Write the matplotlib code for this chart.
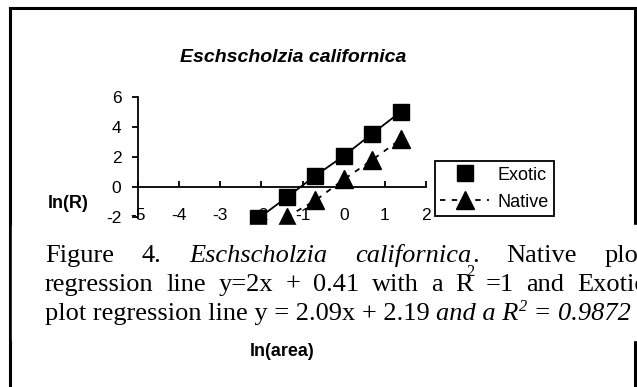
import matplotlib
matplotlib.use("Agg")
import matplotlib.pyplot as plt
from matplotlib.lines import Line2D
from matplotlib.patches import Rectangle

# ---- data ----
title = "Eschscholzia californica"
exotic_x = [-2.08, -1.39, -0.69, 0.0, 0.69, 1.39]
exotic_y = [-2.1, -0.7, 0.75, 2.07, 3.55, 5.02]
native_x = [-1.39, -0.69, 0.0, 0.69, 1.39]
native_y = [-2.0, -0.9, 0.5, 1.8, 3.2]
x_ticks = [-5, -4, -3, -2, -1, 0, 1, 2]
y_ticks = [-2, 0, 2, 4, 6]
series_names = ["Exotic", "Native"]
x_label = "ln(area)"
y_label = "ln(R)"

W, H = 637, 387
fig = plt.figure(figsize=(W / 100, H / 100), dpi=100)
SANS = ["Liberation Sans", "DejaVu Sans"]
SERIF = ["Liberation Serif", "DejaVu Serif"]


def fx(x):
    return x / W


def fy(y):
    return 1 - y / H


# axes: x -5..2 at px 138..426 ; y -2..6 at px 217..97
ax = fig.add_axes([fx(138), fy(217), (426 - 138) / W, (217 - 97) / H])
ax.set_xlim(-5, 2)
ax.set_ylim(-2, 6)
for s in ["top", "right"]:
    ax.spines[s].set_visible(False)
ax.spines["bottom"].set_position(("data", 0))
for s in ["bottom", "left"]:
    ax.spines[s].set_linewidth(1.3)
ax.set_xticks(x_ticks)
ax.set_yticks(y_ticks)
ax.set_xticklabels([str(v) for v in x_ticks], family=SANS, fontsize=12.5)
ax.set_yticklabels([str(v) for v in y_ticks], family=SANS, fontsize=12.5)
ax.tick_params(axis="x", direction="in", length=4, width=1.3, pad=15)
ax.tick_params(axis="y", direction="out", length=4, width=1.3, pad=8)
ax.patch.set_alpha(0)

ax.plot(exotic_x, exotic_y, color="black", lw=1.3, marker="s", ms=11,
        clip_on=False, zorder=3)
ax.plot(native_x, native_y, color="black", lw=1.3, ls=(0, (3, 3.5)),
        marker="^", ms=12.5, clip_on=False, zorder=3)

handles = [
    Line2D([], [], color="black", marker="s", ms=11, ls="none"),
    Line2D([], [], color="black", marker="^", ms=12.5, lw=1.3, ls=(0, (3, 3.5))),
]
leg = fig.legend(handles, series_names, loc="upper left",
                 bbox_to_anchor=(fx(435), fy(161)), borderaxespad=0,
                 prop={"family": SANS, "size": 13}, frameon=True,
                 fancybox=False, framealpha=1, edgecolor="black",
                 handlelength=2.7, handletextpad=0.45, labelspacing=0.5,
                 borderpad=0.3, handleheight=0.9)
leg.get_frame().set_linewidth(1.3)

# chart texts
fig.text(fx(293), fy(57), title, family=SANS, fontsize=14, fontweight="bold",
         fontstyle="italic", ha="center", va="center")
fig.text(fx(68), fy(203), y_label, family=SANS, fontsize=13, fontweight="bold",
         ha="center", va="center")
fig.text(fx(282), fy(352), x_label, family=SANS, fontsize=13, fontweight="bold",
         ha="center", va="center")

# frame
fig.add_artist(Line2D([fx(10), fx(10)], [fy(8), 0], color="black", lw=2.2,
                      transform=fig.transFigure))
fig.add_artist(Line2D([fx(10), fx(635)], [fy(8), fy(8)], color="black", lw=2.2,
                      transform=fig.transFigure))
fig.add_artist(Line2D([fx(635), fx(635)], [fy(8), 0], color="black", lw=2.2,
                      transform=fig.transFigure))

# caption overlay
fig.add_artist(Rectangle((fx(12), fy(340)), 1, (340 - 225) / H,
                         transform=fig.transFigure, color="white", zorder=10))

CS = 19
renderer = fig.canvas.get_renderer()


def cap(x, y, s, italic=False, size=CS):
    return fig.text(fx(x), fy(y), s, family=SERIF, fontsize=size,
                    fontstyle="italic" if italic else "normal",
                    ha="left", va="baseline", zorder=11)


def width(t):
    return t.get_window_extent(renderer).width


def justified(words, base, left=45, right=646):
    """words: list of lists of (text, italic) segments."""
    placed = []
    total = 0
    for w in words:
        segs = []
        for s, it in w:
            t = cap(0, base, s, it)
            segs.append(t)
            total += width(t)
        placed.append(segs)
    gap = (right - left - total) / (len(words) - 1)
    x = left
    for segs in placed:
        for t in segs:
            t.set_x(fx(x))
            x += width(t)
        x += gap
    return placed


b1, b2, b3 = 262, 291, 320
justified([[("Figure", False)], [("4.", False)], [("Eschscholzia", True)],
           [("californica", True), (".", False)], [("Native", False)],
           [("plot", False)]], b1)

p2 = justified([[("regression", False)], [("line", False)], [("y=2x", False)],
                [("+", False)], [("0.41", False)], [("with", False)],
                [("a", False)], [("R", False)], [("=1", False)],
                [("and", False)], [("Exotic", False)]], b2)
rt = p2[7][0]
rx = rt.get_window_extent(renderer).x1
cap(rx - 7, b2 - 15, "2", size=CS * 0.62)

# line 3: natural spacing
x = 45
for s, it, dy, sz in [("plot regression line y = 2.09x + 2.19 ", False, 0, CS),
                      ("and a R", True, 0, CS),
                      ("2", True, -9, CS * 0.62),
                      (" = 0.9872", True, 0, CS)]:
    t = cap(x, b3 + dy, s, it, sz)
    x = t.get_window_extent(renderer).x1

fig.savefig("out.png", dpi=100)
